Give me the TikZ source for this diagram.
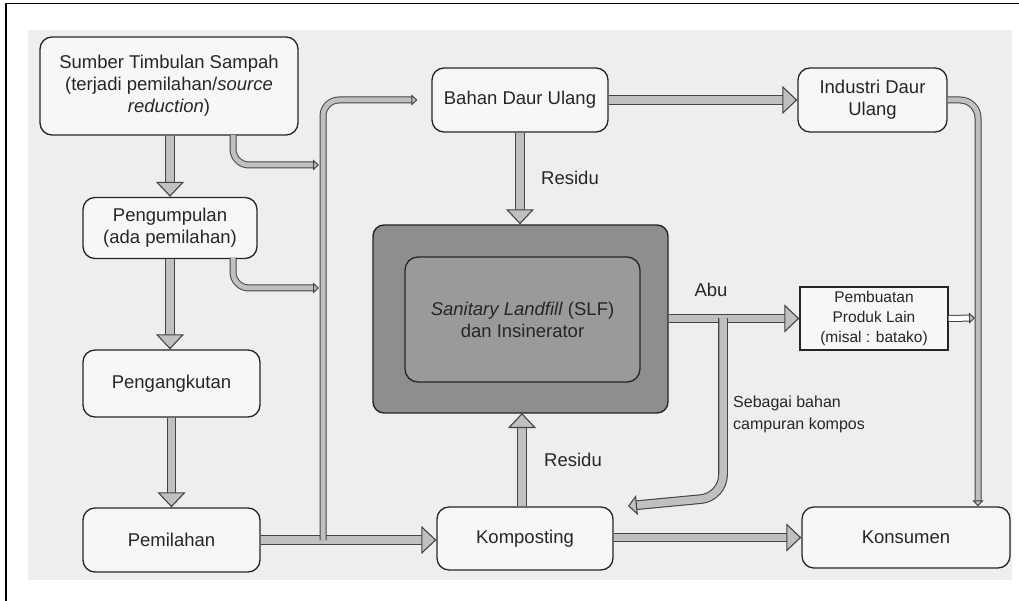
\documentclass[tikz,border=0pt]{standalone}
\usepackage{fontspec}
\setmainfont{Liberation Sans}
\usetikzlibrary{arrows.meta}
\definecolor{ink}{HTML}{262626}
\definecolor{pipeline}{HTML}{444444}
\definecolor{pipefill}{HTML}{C0C0C0}
\definecolor{paper}{HTML}{EEEEEE}
\definecolor{boxfill}{HTML}{F7F7F7}
\definecolor{slfout}{HTML}{8E8E8E}
\definecolor{slfin}{HTML}{9A9A9A}
\tikzset{
  box/.style={draw=ink, line width=1.3pt, rounded corners=12pt, fill=boxfill, text=ink,
    align=center, inner sep=2pt, font=\fontsize{18.5}{22}\selectfont},
  pipe/.style={draw=pipeline, line width=1.1pt, double=pipefill, double distance=7.5pt},
  thinpipe/.style={draw=pipeline, line width=1pt, double=pipefill, double distance=5pt},
  bigtip/.style={-{Triangle[length=15pt,width=28pt,color=pipeline,fill=pipefill,line width=1.1pt]}},
  midtip/.style={-{Triangle[length=9pt,width=20pt,color=pipeline,fill=pipefill,line width=1.1pt]}},
  smalltip/.style={-{Triangle[length=6pt,width=11pt,color=pipeline,fill=pipefill,line width=1pt]}},
  lbl/.style={text=ink, font=\fontsize{18.5}{22}\selectfont, inner sep=0pt},
}
\begin{document}
\begin{tikzpicture}[x=1pt,y=-1pt]
\useasboundingbox (0,0) rectangle (1019,601);
\fill[white] (0,0) rectangle (1019,601);
\fill[paper] (28,30) rectangle (1012,580);
\draw[black, line width=1.5pt] (6,601) -- (6,3.5) -- (1019,3.5);

% nodes
\node[box, minimum width=258pt, minimum height=98pt] (sumber) at (169,86)
  {Sumber Timbulan Sampah\\(terjadi pemilahan/\textit{source}\\\textit{reduction})};
\node[box, minimum width=174pt, minimum height=61pt] (kumpul) at (170,228)
  {Pengumpulan\\(ada pemilahan)};
\node[box, minimum width=177pt, minimum height=67pt] (angkut) at (171.5,383.5) {Pengangkutan};
\node[box, minimum width=177pt, minimum height=64pt] (pilah) at (171.5,540) {Pemilahan};
\node[box, minimum width=176pt, minimum height=64pt] (bahan) at (520,100) {Bahan Daur Ulang};
\node[box, minimum width=149pt, minimum height=64pt] (industri) at (872.5,100) {Industri Daur\\Ulang};
\node[draw=ink, line width=1.4pt, rounded corners=11pt, fill=slfout, minimum width=295pt, minimum height=188pt] (slf) at (520.5,319) {};
\node[draw=ink, line width=1.3pt, rounded corners=13pt, fill=slfin, minimum width=235pt, minimum height=125pt,
  align=center, text=ink, font=\fontsize{18.5}{22}\selectfont] (slfin) at (522.5,319.5)
  {\textit{Sanitary Landfill} (SLF)\\dan Insinerator};
\node[draw=ink, line width=1.3pt, fill=boxfill, minimum width=148pt, minimum height=63pt, align=center,
  text=ink, font=\fontsize{15.5}{20}\selectfont, inner sep=1pt] (buat) at (874,318.5)
  {Pembuatan\\Produk Lain\\(misal : batako)};
\node[box, minimum width=176pt, minimum height=63pt] (kompos) at (525,538.5) {Komposting};
\node[box, minimum width=208pt, minimum height=61pt] (konsumen) at (906,537.5) {Konsumen};

% coordinates
\coordinate (trunkbot) at (323,540);
\coordinate (trunktop) at (323,100);
\coordinate (abuj) at (723,318);
\coordinate (abuc) at (723,497);
\coordinate (abuend) at (628,506);
\coordinate (indc) at (978,100);
\coordinate (rline) at (975,318);

% main chain
\draw[pipe, bigtip] (kumpul.north |- sumber.south) -- (kumpul.north);
\draw[pipe, bigtip] (kumpul.south) -- (kumpul.south |- angkut.north);
\draw[pipe, bigtip] (angkut.south) -- (angkut.south |- pilah.north);
\draw[pipe, bigtip] (pilah.east) -- (kompos.west |- pilah.east);

% trunk
\draw[thinpipe, smalltip, rounded corners=16pt] (trunkbot) -- (trunktop) -- ([xshift=-14pt]bahan.west);
\draw[thinpipe, smalltip, rounded corners=16pt] (233,135) -- (233,165) -- (319,165);
\draw[thinpipe, smalltip, rounded corners=16pt] (233,258) -- (233,288) -- (319,288);

% right side
\draw[pipe, bigtip] (bahan.east) -- (industri.west);
\draw[pipe, bigtip] (bahan.south) -- (bahan.south |- slf.north);
\draw[pipe, bigtip] (kompos.north -| 522,0) -- (522,413);
\draw[pipe, bigtip] (slf.east |- buat.west) -- (buat.west);
\draw[pipe, midtip, rounded corners=22pt] (abuj) -- (abuc) -- (abuend);
\draw[pipe, bigtip] (kompos.east |- konsumen.west) -- (konsumen.west);
\draw[thinpipe, smalltip, rounded corners=18pt] (industri.east) -- (indc) -- (indc |- konsumen.north);
\draw[thinpipe, double=white, smalltip] (buat.east) -- (rline);

% labels
\node[lbl] (res1) at (570,178) {Residu};
\node[lbl] (res2) at (573,460) {Residu};
\node[lbl] (abu) at (711,290) {Abu};
\node[lbl, font=\fontsize{16}{22}\selectfont, align=left, anchor=west] (seb) at (733,414)
  {Sebagai bahan\\campuran kompos};
\end{tikzpicture}
\end{document}
